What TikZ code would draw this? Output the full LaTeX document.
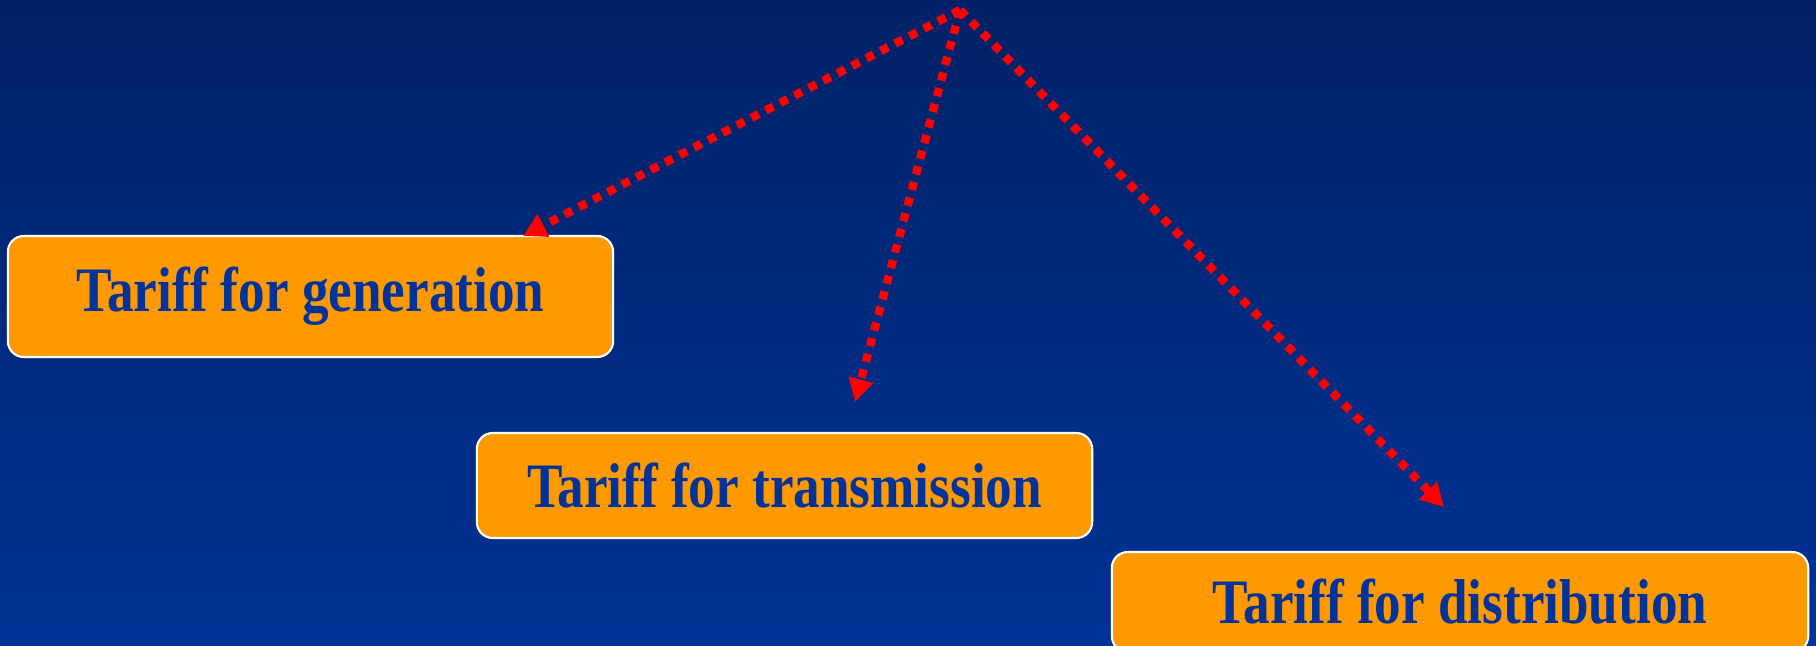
\documentclass[tikz,border=0pt]{standalone}
\usepackage{fontspec}
\usepackage{tikz}
\usetikzlibrary{arrows.meta}
\newfontfamily\tarifffont[FakeStretch=0.84]{Liberation Serif}
\definecolor{bgtop}{RGB}{0,33,102}
\definecolor{bgbottom}{RGB}{0,51,150}
\definecolor{tariffblue}{RGB}{0,51,153}
\definecolor{tarifforange}{RGB}{255,153,0}

\begin{document}
\begin{tikzpicture}[x=0.01cm,y=-0.01cm,
  tariffbox/.style={draw=white,line width=0.6pt,fill=tarifforange,rounded corners=0.16cm,
    text=tariffblue,font=\tarifffont\bfseries\fontsize{18}{20}\selectfont,inner sep=0pt},
  tariffarrow/.style={draw=red,line width=2.4pt,dash pattern=on 2.4pt off 2.2pt,
    -{Triangle[length=0.23cm,width=0.24cm,fill=red]}}]
\useasboundingbox (0,0) rectangle (1816,645);
\shade[top color=bgtop,bottom color=bgbottom] (0,0) rectangle (1816,645);
\node[tariffbox,minimum width=6.05cm,minimum height=1.21cm] (gen) at (310.5,296.5) {Tariff for generation};
\node[tariffbox,minimum width=6.15cm,minimum height=1.05cm] (trans) at (784.5,485.5) {Tariff for transmission};
\node[tariffbox,minimum width=6.96cm,minimum height=1.0cm] (dist) at (1460,602) {Tariff for distribution};
\coordinate (apex) at (960,10);
\coordinate (genTip) at (523,236);
\coordinate (transTip) at (855,402);
\coordinate (distTip) at (1444,507);
\draw[tariffarrow] (apex) -- (genTip);
\draw[tariffarrow] (apex) -- (transTip);
\draw[tariffarrow] (apex) -- (distTip);
\end{tikzpicture}
\end{document}
